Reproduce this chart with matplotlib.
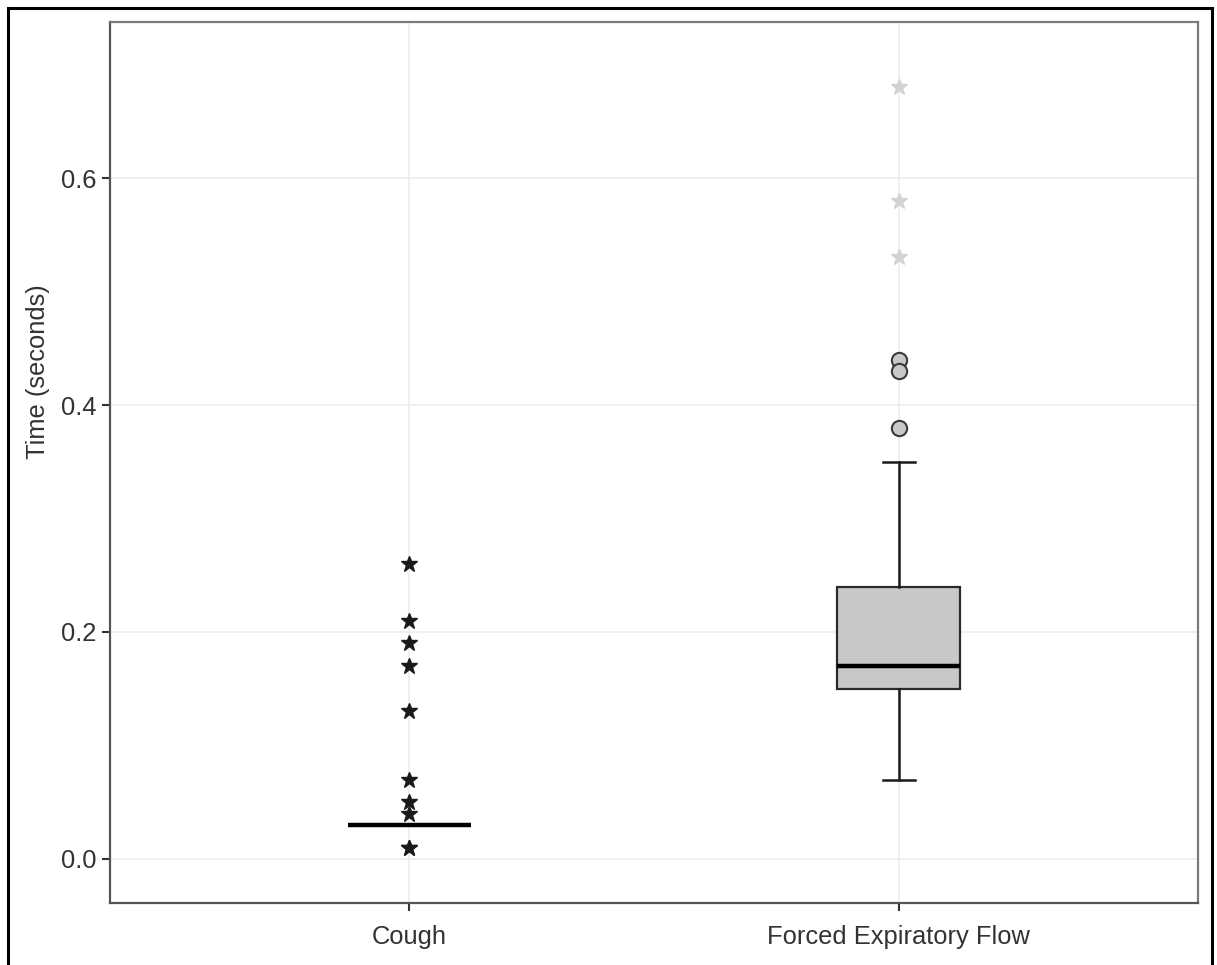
import matplotlib
matplotlib.use("Agg")
import matplotlib.pyplot as plt
from matplotlib.patches import Rectangle

plt.rcParams["font.family"] = ["Liberation Sans", "DejaVu Sans"]

CATEGORIES = ["Cough", "Forced Expiratory Flow"]

# box statistics
MEDIANS = [0.03, 0.17]
Q1 = [0.03, 0.15]
Q3 = [0.03, 0.24]
WHISK_LO = [0.03, 0.07]
WHISK_HI = [0.03, 0.35]

# extreme values (stars) and outliers (circles)
COUGH_EXTREMES = [0.26, 0.21, 0.19, 0.17, 0.13, 0.07, 0.05, 0.04, 0.01, 0.01]
FEF_EXTREMES = [0.68, 0.58, 0.53]
FEF_OUTLIERS = [0.44, 0.43, 0.38]

YTICKS = [0.0, 0.2, 0.4, 0.6]

W, H = 1217, 965
fig = plt.figure(figsize=(W / 100, H / 100), dpi=100)
ax = fig.add_axes([110 / W, 1 - 903 / H, (1198 - 110) / W, (903 - 22) / H])

stats = []
for i, name in enumerate(CATEGORIES):
    stats.append({
        "label": name,
        "med": MEDIANS[i],
        "q1": Q1[i],
        "q3": Q3[i],
        "whislo": WHISK_LO[i],
        "whishi": WHISK_HI[i],
        "fliers": [],
    })

positions = list(range(len(CATEGORIES)))
ax.bxp(
    stats,
    positions=positions,
    widths=0.25,
    patch_artist=True,
    showfliers=False,
    boxprops=dict(facecolor="#c8c8c8", edgecolor="#2b2b2b", linewidth=1.6),
    medianprops=dict(color="black", linewidth=3.2),
    whiskerprops=dict(color="#1a1a1a", linewidth=1.8),
    capprops=dict(color="#1a1a1a", linewidth=1.8),
    capwidths=0.065,
    zorder=3,
)

ax.plot([0] * len(COUGH_EXTREMES), COUGH_EXTREMES, linestyle="none",
        marker="*", markersize=12, color="#1a1a1a", zorder=4)
ax.plot([1] * len(FEF_EXTREMES), FEF_EXTREMES, linestyle="none",
        marker="*", markersize=12, color="#d2d2d2", zorder=4)
ax.plot([1] * len(FEF_OUTLIERS), FEF_OUTLIERS, linestyle="none",
        marker="o", markersize=11, markerfacecolor="#c8c8c8",
        markeredgecolor="#3a3a3a", markeredgewidth=1.5, zorder=4)

ax.set_xlim(-0.612, 1.612)
ax.set_ylim(-0.0388, 0.7375)
ax.set_yticks(YTICKS)
ax.set_yticklabels([f"{v:.1f}" for v in YTICKS])
ax.set_xticks(positions)
ax.set_xticklabels(CATEGORIES)
ax.tick_params(axis="both", labelsize=18.4, colors="#333333", length=6,
               width=1.5, labelcolor="#333333")
ax.tick_params(axis="x", pad=10)
ax.set_ylabel("Time (seconds)", fontsize=18.4, color="#333333")
ax.yaxis.set_label_coords(-0.055, 0.603)

ax.set_axisbelow(True)
ax.grid(True, color="#ececec", linewidth=1.2)
for side, sp in ax.spines.items():
    sp.set_color("#555555" if side in ("left", "bottom") else "#7a7a7a")
    sp.set_linewidth(1.6)

# outer frame around the whole figure (open at the bottom edge)
fig.patches.append(Rectangle((8 / W, -0.02), (1212 - 8) / W, 1 - 8 / H + 0.02,
                             transform=fig.transFigure, fill=False,
                             edgecolor="black", linewidth=2.2))

fig.savefig("out.png", dpi=100, facecolor="white")
